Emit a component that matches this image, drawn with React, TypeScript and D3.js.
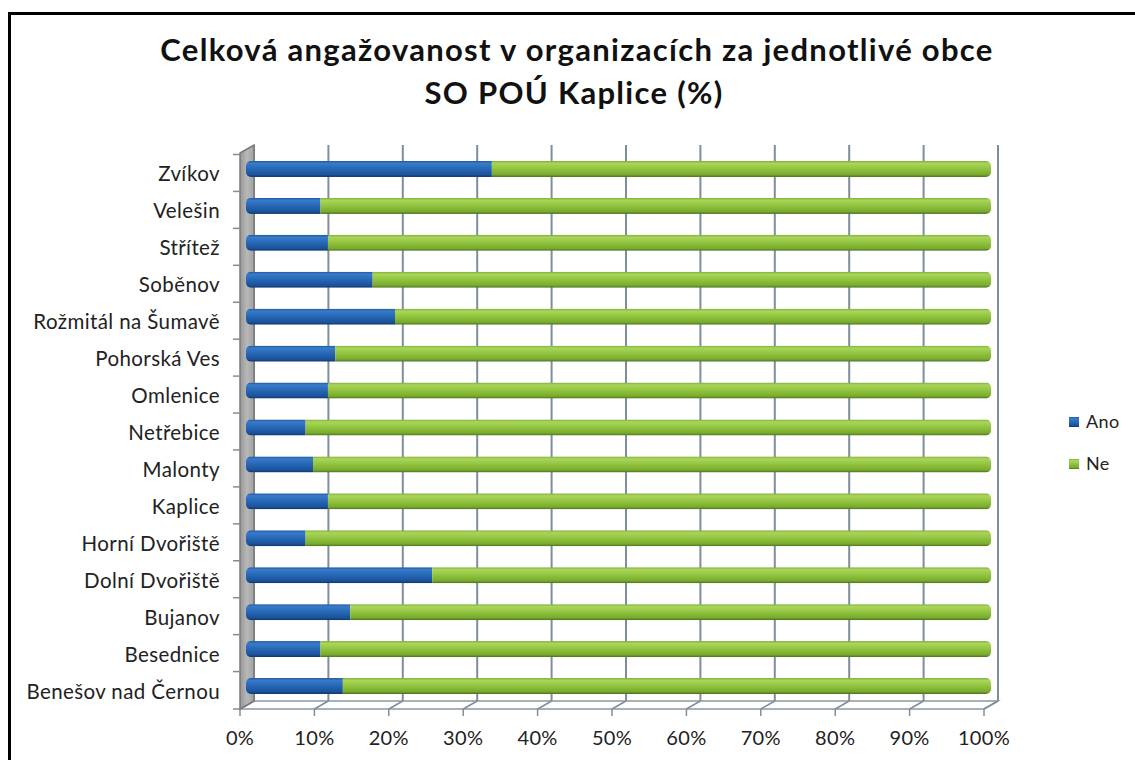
import * as d3 from "d3";
import React from "react";

// categories listed top to bottom as in the chart
const obce = [
  "Zvíkov",
  "Velešin",
  "Střítež",
  "Soběnov",
  "Rožmitál na Šumavě",
  "Pohorská Ves",
  "Omlenice",
  "Netřebice",
  "Malonty",
  "Kaplice",
  "Horní Dvořiště",
  "Dolní Dvořiště",
  "Bujanov",
  "Besednice",
  "Benešov nad Černou",
];
// share of "Ano" answers (%)
const ano = [33, 10, 11, 17, 20, 12, 11, 8, 9, 11, 8, 25, 14, 10, 13];
const ne = ano.map((v) => 100 - v);
const seriesNames = ["Ano", "Ne"];
const xTicks = [0, 10, 20, 30, 40, 50, 60, 70, 80, 90, 100];

const W = 1135;
const H = 760;
const FONT = "Lato, 'Open Sans', sans-serif";

export default function App() {
  // 3D-ish plot: front plane, back plane and bars in the middle
  const depthX = 14;
  const depthY = 8;
  const frontTop = 153;
  const frontBottom = 709;
  const xFront = d3.scaleLinear().domain([0, 100]).range([240, 984]);
  const xBack = d3.scaleLinear().domain([0, 100]).range([240 + depthX, 984 + depthX]);
  const xBar = d3.scaleLinear().domain([0, 100]).range([246, 991]);
  const y = d3.scaleBand().domain(obce).range([150.5, 704.5]).padding(0);
  const barH = 16;

  const backTop = frontTop - depthY;
  const backBottom = frontBottom - depthY;

  return (
    <svg
      width={W}
      height={H}
      style={{ position: "absolute", left: 0, top: 0, background: "#fff" }}
      fontFamily={FONT}
    >
      <defs>
        <linearGradient id="gAno" x1="0" y1="0" x2="0" y2="1">
          <stop offset="0" stopColor="#1d58a2" />
          <stop offset="0.15" stopColor="#3a7bc9" />
          <stop offset="0.5" stopColor="#2667b5" />
          <stop offset="0.85" stopColor="#1b529a" />
          <stop offset="1" stopColor="#0f3567" />
        </linearGradient>
        <linearGradient id="gNe" x1="0" y1="0" x2="0" y2="1">
          <stop offset="0" stopColor="#80ae36" />
          <stop offset="0.15" stopColor="#a9d65b" />
          <stop offset="0.5" stopColor="#91c33e" />
          <stop offset="0.85" stopColor="#78aa2f" />
          <stop offset="1" stopColor="#4b6f19" />
        </linearGradient>
        <linearGradient id="gWall" x1="0" y1="0" x2="1" y2="0">
          <stop offset="0" stopColor="#979797" />
          <stop offset="0.5" stopColor="#b8b8b8" />
          <stop offset="1" stopColor="#a2a2a2" />
        </linearGradient>
        {obce.map((o, i) => (
          <clipPath id={`clip${i}`} key={o}>
            <rect
              x={xBar(0)}
              y={y(o)! + y.bandwidth() / 2 - barH / 2}
              width={xBar(100) - xBar(0)}
              height={barH}
              rx={5}
            />
          </clipPath>
        ))}
      </defs>

      {/* frame */}
      <rect x={9.5} y={13.5} width={1200} height={800} fill="none" stroke="#000" strokeWidth={3} />

      {/* title */}
      <text x={577} y={61} textAnchor="middle" fontSize={31} fontWeight="bold" letterSpacing={1.3} fill="#111">
        Celková angažovanost v organizacích za jednotlivé obce
      </text>
      <text x={574} y={104} textAnchor="middle" fontSize={31} fontWeight="bold" letterSpacing={1.3} fill="#111">
        SO POÚ Kaplice (%)
      </text>

      {/* floor */}
      <polygon
        points={`${xFront(0)},${frontBottom} ${xFront(100)},${frontBottom} ${xBack(100)},${backBottom} ${xBack(0)},${backBottom}`}
        fill="#fff"
        stroke="#8a98a6"
        strokeWidth={1.5}
      />

      {/* back gridlines and floor diagonals */}
      {xTicks.map((t) => (
        <g key={t} stroke="#7f8e9c" strokeWidth={2}>
          <line x1={xBack(t)} x2={xBack(t)} y1={backTop} y2={backBottom} />
          <line x1={xFront(t)} x2={xBack(t)} y1={frontBottom} y2={backBottom} strokeWidth={1.5} />
          <line x1={xFront(t)} x2={xFront(t)} y1={frontBottom} y2={frontBottom + 7} strokeWidth={1.5} />
        </g>
      ))}

      {/* side wall */}
      <polygon
        points={`${xFront(0)},${frontTop} ${xBack(0)},${backTop} ${xBack(0)},${backBottom} ${xFront(0)},${frontBottom}`}
        fill="url(#gWall)"
        stroke="#7a7a7a"
        strokeWidth={1.5}
      />

      {/* category ticks */}
      {obce.map((o) => (
        <line
          key={o}
          x1={xFront(0) - 7}
          x2={xFront(0)}
          y1={y(o)! + depthY / 2}
          y2={y(o)! + depthY / 2}
          stroke="#7f8e9c"
          strokeWidth={1.5}
        />
      ))}
      <line
        x1={xFront(0) - 7}
        x2={xFront(0)}
        y1={frontBottom}
        y2={frontBottom}
        stroke="#7f8e9c"
        strokeWidth={1.5}
      />

      {/* bars */}
      {obce.map((o, i) => {
        const cy = y(o)! + y.bandwidth() / 2;
        return (
          <g key={o} clipPath={`url(#clip${i})`}>
            <rect
              x={xBar(0)}
              y={cy - barH / 2}
              width={xBar(ano[i]) - xBar(0)}
              height={barH}
              fill="url(#gAno)"
            />
            <rect
              x={xBar(ano[i])}
              y={cy - barH / 2}
              width={xBar(ano[i] + ne[i]) - xBar(ano[i])}
              height={barH}
              fill="url(#gNe)"
            />
          </g>
        );
      })}

      {/* category labels */}
      {obce.map((o) => (
        <text
          key={o}
          x={220}
          y={y(o)! + y.bandwidth() / 2 + 12.5}
          textAnchor="end"
          fontSize={20.5}
          letterSpacing={0.4}
          fill="#222"
        >
          {o}
        </text>
      ))}

      {/* x tick labels */}
      {xTicks.map((t) => (
        <text key={t} x={xFront(t)} y={745} textAnchor="middle" fontSize={20} letterSpacing={0.3} fill="#222">
          {t}%
        </text>
      ))}

      {/* legend */}
      {seriesNames.map((s, i) => (
        <g key={s} transform={`translate(1069, ${417 + i * 42})`}>
          <rect width={10} height={10} fill={i === 0 ? "url(#gAno)" : "url(#gNe)"} />
          <text x={17} y={10.5} fontSize={18} letterSpacing={0.4} fill="#222">
            {s}
          </text>
        </g>
      ))}
    </svg>
  );
}
